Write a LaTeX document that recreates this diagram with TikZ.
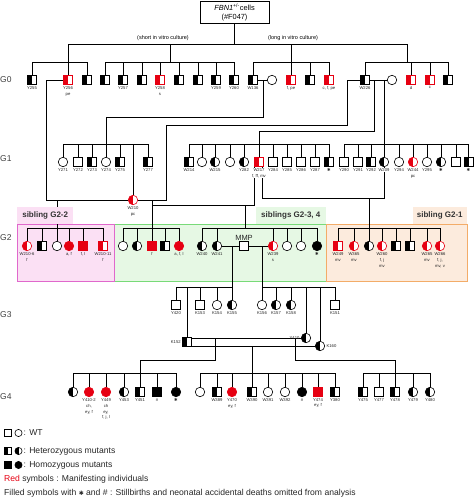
\documentclass[tikz,border=0pt]{standalone}
\usepackage{fontspec}
\setmainfont{Liberation Sans}
\setsansfont{Liberation Sans}
\newfontfamily\djv{DejaVu Sans}
\usetikzlibrary{backgrounds}
\definecolor{mred}{RGB}{230,0,18}
\definecolor{pinkf}{RGB}{251,224,244}
\definecolor{pinkd}{RGB}{224,104,204}
\definecolor{greenf}{RGB}{230,248,228}
\definecolor{greend}{RGB}{120,218,120}
\definecolor{orangef}{RGB}{252,235,221}
\definecolor{oranged}{RGB}{243,172,104}
\newcommand\stx{{\djv\char"2731}}
\newcommand\sibline[2]{\foreach \c in {#2}{\draw[ln] (\c.north) -- (\c.north |- #1);}}
\tikzset{
  sym/.style={draw=black, line width=0.6pt, inner sep=0pt, outer sep=0pt, fill=white},
  sq/.style={sym, rectangle, minimum size=9pt},
  ci/.style={sym, circle, minimum size=9.5pt},
  hetB/.style={path picture={\fill[black] (path picture bounding box.south west) rectangle (path picture bounding box.north);}},
  hetR/.style={draw=mred, path picture={\fill[mred] (path picture bounding box.south west) rectangle (path picture bounding box.north);}},
  homB/.style={fill=black},
  homR/.style={draw=mred, fill=mred},
  lab/.style={font=\fontsize{4.2}{5.8}\selectfont, align=center, inner sep=0.4pt, text=black!85},
  every label/.style={label distance=1.2pt},
  ln/.style={line width=0.6pt, black},
  gen/.style={font=\fontsize{8.5}{9}\selectfont, text=black!75, anchor=west, inner sep=0pt},
  tab/.style={font=\bfseries\fontsize{8}{9}\selectfont, text=black!80, inner sep=2pt, minimum height=17pt},
  leg/.style={font=\fontsize{8.6}{9.5}\selectfont, anchor=west, inner sep=0pt, text=black!85},
  lsym/.style={minimum size=6.8pt},
}
\begin{document}
\begin{tikzpicture}[x=1pt,y=-1pt]
\useasboundingbox (0,0) rectangle (474,501);

% source box
\node[draw, line width=0.6pt, minimum width=69pt, minimum height=22pt, align=center, inner sep=0pt,
      font=\fontsize{7.4}{9}\selectfont] (src) at (234.5,12) {\textit{FBN1}\textsuperscript{+/-}cells\\(\#F047)};
\node[font=\fontsize{5.5}{6}\selectfont, inner sep=0pt] (short) at (163,38) {(short in vitro culture)};
\node[font=\fontsize{5.5}{6}\selectfont, inner sep=0pt] (long) at (293,38) {(long in vitro culture)};

% generation labels
\node[gen] (G0) at (0,80) {G0};
\node[gen] (G1) at (0,159) {G1};
\node[gen] (G2) at (0,238) {G2};
\node[gen] (G3) at (0,315) {G3};
\node[gen] (G4) at (0,397) {G4};

% ---------- G0 ----------
\node[sq,hetB,label={[lab]below:Y255}] (Y255) at (32,80) {};
\node[sq,hetR,label={[lab]below:{Y256\\pe}}] (Y256) at (68,80) {};
\node[sq,hetB] (g0a) at (87,80) {};
\node[sq,hetB] (g0b) at (105,80) {};
\node[sq,hetB,label={[lab]below:Y257}] (Y257) at (123,80) {};
\node[sq,hetB] (g0c) at (142,80) {};
\node[sq,hetR,label={[lab]below:{Y258\\s}}] (Y258) at (160,80) {};
\node[sq,hetB] (g0d) at (179,80) {};
\node[sq,hetB] (g0e) at (198,80) {};
\node[sq,hetB,label={[lab]below:Y259}] (Y259) at (216,80) {};
\node[sq,hetB,label={[lab]below:Y260}] (Y260) at (234,80) {};
\node[sq,hetB,label={[lab]below:W136}] (W136) at (253,80) {};
\node[ci] (c136) at (272,80) {};
\node[sq,hetR,label={[lab]below:{f, pe}}] (g0f) at (291,80) {};
\node[sq,hetB] (g0g) at (310,80) {};
\node[sq,hetR,label={[lab]below:{c, f, pe}}] (g0h) at (329,80) {};
\node[sq,hetB,label={[lab]below:W226}] (W226) at (365,80) {};
\node[ci] (c226) at (392,80) {};
\node[sq,hetR,label={[lab]below:d}] (g0i) at (411,80) {};
\node[sq,hetR,label={[lab]below:c}] (g0j) at (430,80) {};
\node[sq,hetB] (g0k) at (448,80) {};

% ---------- G1 ----------
\node[ci,label={[lab]below:Y271}] (Y271) at (63,162) {};
\node[sq,label={[lab]below:Y272}] (Y272) at (78,162) {};
\node[sq,hetB,label={[lab]below:Y273}] (Y273) at (92,162) {};
\node[ci,label={[lab]below:Y274}] (Y274) at (106,162) {};
\node[sq,hetB,label={[lab]below:Y275}] (Y275) at (120,162) {};
\node[ci,hetR,label={[lab]below:{W210\\pc}}] (W210) at (133,200) {};
\node[sq,hetB,label={[lab]below:Y277}] (Y277) at (148,162) {};

\node[sq,hetB,label={[lab]below:W214}] (W214) at (189,162) {};
\node[ci] (g1a) at (202,162) {};
\node[ci,hetB,label={[lab]below:W215}] (W215) at (215,162) {};
\node[ci] (g1b) at (230,162) {};
\node[ci,hetB,label={[lab]below:Y282}] (Y282) at (244,162) {};
\node[sq,hetR,label={[lab,fill=white]below:{W217\\f, ff, mv}}] (W217) at (259,162) {};
\node[sq,label={[lab]below:Y284}] (Y284) at (273,162) {};
\node[sq,label={[lab]below:Y285}] (Y285) at (287,162) {};
\node[sq,label={[lab]below:Y286}] (Y286) at (301,162) {};
\node[sq,label={[lab]below:Y287}] (Y287) at (315,162) {};
\node[sq,hetB,label={[lab]below:\stx}] (g1c) at (329,162) {};

\node[sq,label={[lab]below:Y290}] (Y290) at (344,162) {};
\node[sq,label={[lab]below:Y291}] (Y291) at (358,162) {};
\node[sq,hetB,label={[lab]below:Y292}] (Y292) at (371,162) {};
\node[ci,hetB,label={[lab,fill=white]below:W209}] (W209) at (384,162) {};
\node[ci,label={[lab]below:Y294}] (Y294) at (399,162) {};
\node[ci,hetR,label={[lab]below:{W244\\pc}}] (W244) at (413,162) {};
\node[ci,label={[lab]below:Y295}] (Y295) at (427,162) {};
\node[ci,hetB,label={[lab]below:\stx}] (g1d) at (441,162) {};
\node[sq] (g1e) at (456,162) {};
\node[sq,hetB,label={[lab]below:\stx}] (g1f) at (468.5,162) {};

% ---------- G2 boxes ----------
\begin{scope}[on background layer]
  \fill[greenf] (114,224) rectangle (326,281);
  \fill[orangef] (326,224) rectangle (467,281);
  \fill[pinkf] (17,224) rectangle (114,281);
  \draw[greend, line width=0.9pt] (114,224) rectangle (326,281);
  \draw[oranged, line width=0.9pt] (326,224) rectangle (467,281);
  \draw[pinkd, line width=0.9pt] (17,224) rectangle (114,281);
\end{scope}
\node[tab, fill=pinkf, anchor=south west, minimum width=56pt] (tabA) at (17,224) {sibling G2-2};
\node[tab, fill=greenf, anchor=south east, minimum width=70pt] (tabB) at (326,224) {siblings G2-3, 4};
\node[tab, fill=orangef, anchor=south east, minimum width=54pt] (tabC) at (467,224) {sibling G2-1};

% ---------- G2 ----------
\node[ci,hetR,label={[lab]below:{W210-6\\f}}] (p1) at (27,246) {};
\node[sq,hetB] (p2) at (42,246) {};
\node[ci] (p3) at (57,246) {};
\node[ci,homR,label={[lab]below:{a, f}}] (p4) at (69,246) {};
\node[sq,homR,label={[lab]below:{f, l}}] (p5) at (83,246) {};
\node[sq,hetR,label={[lab]below:{W210-11\\f}}] (p6) at (103,246) {};

\node[ci] (q1) at (123,246) {};
\node[ci,hetB] (q2) at (137,246) {};
\node[sq,homR,label={[lab]below:f}] (q3) at (152,246) {};
\node[sq,hetB] (q4) at (165,246) {};
\node[ci,homR,label={[lab]below:{a, f, l}}] (q5) at (179,246) {};

\node[ci,hetB,label={[lab]below:W240}] (W240) at (202,246) {};
\node[ci,hetB,label={[lab]below:W241}] (W241) at (217,246) {};
\node[sq,label={[font=\fontsize{7.5}{8}\selectfont,inner sep=0pt,label distance=1pt,text=black!85]above:MMP}] (MMP) at (244,246) {};
\node[ci,hetR,label={[lab]below:{W239\\s}}] (W239) at (273,246) {};
\node[ci] (r1) at (287,246) {};
\node[ci] (r2) at (301,246) {};
\node[ci,homB,label={[lab]below:\stx}] (r3) at (317,246) {};

\node[sq,hetR,label={[lab]below:{W249\\mv}}] (W249) at (338,246) {};
\node[ci,hetR,label={[lab]below:{W365\\mv}}] (W365) at (354,246) {};
\node[ci,hetB] (o3) at (369,246) {};
\node[ci,hetR,label={[lab]below:{W260\\f, j\\mv}}] (W260) at (382,246) {};
\node[sq,hetB] (o5) at (396,246) {};
\node[sq,hetB] (o6) at (410,246) {};
\node[ci,hetR,label={[lab]below:{W265\\mv}}] (W265) at (427,246) {};
\node[ci,hetR,label={[lab]below:{W266\\f, j,\\mv, v}}] (W266) at (440,246) {};

% ---------- G3 ----------
\node[sq,label={[lab]below:Y420}] (Y420) at (176,305) {};
\node[sq,hetB,label={[lab]left:K152}] (K152) at (187,342) {};
\node[sq,label={[lab]below:K153}] (K153) at (200,305) {};
\node[ci,label={[lab]below:K154}] (K154) at (217,305) {};
\node[ci,hetB,label={[lab]below:K155}] (K155) at (232,305) {};
\node[ci,label={[lab]below:K156}] (K156) at (262,305) {};
\node[ci,hetB,label={[lab]below:K157}] (K157) at (276,305) {};
\node[ci,hetB,label={[lab]below:K158}] (K158) at (291,305) {};
\node[ci,hetB,label={[lab]left:Y410}] (Y410) at (306,338) {};
\node[ci,hetB,label={[lab]right:K160}] (K160) at (320,346) {};
\node[sq,label={[lab]below:K151}] (K151) at (335,305) {};

% ---------- G4 ----------
\node[ci,hetB] (t1) at (73,392) {};
\node[ci,homR,label={[lab]below:{Y410-2\\ch,\\ey, f}}] (Y4102) at (89,392) {};
\node[ci,homR,label={[lab]below:{Y449\\ch\\ey,\\f, j, l}}] (Y449) at (106,392) {};
\node[ci,hetB,label={[lab]below:Y453}] (Y453) at (124,392) {};
\node[sq,hetB,label={[lab]below:Y451}] (Y451) at (140,392) {};
\node[sq,homB,label={[lab]below:\#}] (t6) at (157,392) {};
\node[ci,homB,label={[lab]below:\stx}] (t7) at (176,392) {};

\node[ci] (u1) at (200,392) {};
\node[sq,hetB,label={[lab]below:W389}] (W389) at (217,392) {};
\node[ci,homR,label={[lab]below:{Y470\\ey, f}}] (Y470) at (232,392) {};
\node[sq,hetB,label={[lab]below:W390}] (W390) at (252,392) {};
\node[ci,label={[lab]below:W391}] (W391) at (268,392) {};
\node[ci,label={[lab]below:W392}] (W392) at (285,392) {};
\node[ci,homB,label={[lab]below:\#}] (u7) at (302,392) {};
\node[sq,homR,label={[lab]below:{Y474\\ey, f}}] (Y474) at (318,392) {};
\node[sq,hetB,label={[lab]below:Y380}] (Y380) at (335,392) {};

\node[sq,hetB,label={[lab]below:Y475}] (Y475) at (363,392) {};
\node[sq,label={[lab]below:Y477}] (Y477) at (379,392) {};
\node[sq,hetB,label={[lab]below:Y478}] (Y478) at (395,392) {};
\node[ci,hetB,label={[lab]below:Y479}] (Y479) at (413,392) {};
\node[ci,hetB,label={[lab]below:Y480}] (Y480) at (430,392) {};

% ---------- connectors ----------
\coordinate (T) at (0,44);
\coordinate (TR) at (407,44);
\coordinate (J2) at (170,44);
\coordinate (S0) at (0,62);
\coordinate (S1) at (0,144);
\coordinate (S2) at (0,228);
\coordinate (S3) at (0,287);
\coordinate (S4) at (0,373);
\coordinate (k117) at (0,117);
\coordinate (m136) at (263,80);
\coordinate (c46) at (46,200);
\coordinate (c166) at (166,125);
\coordinate (c347) at (347,80);
\coordinate (d374) at (374,80);
\coordinate (d384) at (384,80);
\coordinate (c259) at (259,131);
\coordinate (c254) at (254,205);
\coordinate (c152b) at (152,205);
\coordinate (c152) at (152,200);
\coordinate (c57) at (57,200);
\coordinate (c262) at (262,198);
\coordinate (c369) at (369,198);
\coordinate (c245) at (245,205);
\coordinate (c232) at (232,246);
\coordinate (c262b) at (262,246);
\coordinate (c215) at (215,338);
\coordinate (c295) at (295,338);
\coordinate (c252) at (252,346);
\coordinate (c360) at (0,360);
\coordinate (c188) at (187,287);

\begin{scope}[on background layer]
  % top
  \draw[ln] (src.south) -- (src.south |- T);
  \draw[ln] (Y256.north |- T) -- (TR);
  \draw[ln] (Y256.north |- T) -- (Y256.north);
  \draw[ln] (J2) -- (J2 |- S0);
  \draw[ln] (g0f.north |- T) -- (g0f.north);
  \draw[ln] (TR) -- (TR |- S0);
  % G0 sibships
  \draw[ln] (Y255.north |- S0) -- (g0a.north |- S0);
  \sibline{S0}{Y255,g0a}
  \draw[ln] (g0b.north |- S0) -- (Y260.north |- S0);
  \sibline{S0}{g0b,Y257,g0c,Y258,g0d,g0e,Y259,Y260}
  \draw[ln] (W136.north |- S0) -- (g0h.north |- S0);
  \sibline{S0}{W136,g0g,g0h}
  \draw[ln] (W226.north |- S0) -- (g0k.north |- S0);
  \sibline{S0}{W226,g0i,g0j,g0k}
  % G0 matings
  \draw[ln] (W136.east) -- (c136.west);
  \draw[ln] (W226.east) -- (c226.west);
  \draw[ln] (m136) |- (Y274.north |- k117) -- (Y274.north);
  \draw[ln] (Y256.west) -| (c46) -- (W210.west);
  \draw[ln] (W210.east) -| (c166) -| (c347) -- (W226.west);
  \draw[ln] (d374) |- (c259) -- (W217.north);
  \draw[ln] (d384) -- (W209.north);
  % G1 sibships
  \draw[ln] (Y271.north |- S1) -- (Y277.north |- S1);
  \sibline{S1}{Y271,Y272,Y273,Y275,Y277,W210}
  \draw[ln] (W214.north |- S1) -- (g1c.north |- S1);
  \sibline{S1}{W214,g1a,W215,g1b,Y282,Y284,Y285,Y286,Y287,g1c}
  \draw[ln] (Y290.north |- S1) -- (g1f.north |- S1);
  \sibline{S1}{Y290,Y291,Y292,Y294,W244,Y295,g1d,g1e,g1f}
  % G1 matings
  \draw[ln] (W217.south -| c254) -- (c254) -- (c152b);
  \draw[ln] (W217.south -| c262) -- (c262) -| (W209.south);
  \draw[ln] (c152) -- (q3.north);
  \draw[ln] (c57) -- (p3.north);
  \draw[ln] (c245) -- (c245 |- S2);
  \draw[ln] (c369) -- (o3.north);
  % G2 sibships
  \draw[ln] (p1.north |- S2) -- (p6.north |- S2);
  \sibline{S2}{p1,p2,p4,p5,p6}
  \draw[ln] (q1.north |- S2) -- (q5.north |- S2);
  \sibline{S2}{q1,q2,q4,q5}
  \draw[ln] (W240.north |- S2) -- (r3.north |- S2);
  \sibline{S2}{W240,W241,W239,r1,r2,r3}
  \draw[ln] (W249.north |- S2) -- (W266.north |- S2);
  \sibline{S2}{W249,W365,W260,o5,o6,W265,W266}
  % G2 matings
  \draw[ln] (W241.east) -- (MMP.west);
  \draw[ln] (MMP.east) -- (W239.west);
  \draw[ln] (c232) -- (K155.north);
  \draw[ln] (c262b) -- (K156.north);
  % G3 sibships
  \draw[ln] (Y420.north |- S3) -- (K155.north |- S3);
  \sibline{S3}{Y420,K153,K154}
  \draw[ln] (c188) -- (K152.north);
  \draw[ln] (K156.north |- S3) -- (K151.north |- S3);
  \sibline{S3}{K157,K158,K151}
  \draw[ln] (Y410.north |- S3) -- (Y410.north);
  \draw[ln] (K160.north |- S3) -- (K160.north);
  % G3 matings
  \draw[ln] (K152.east |- Y410.west) -- (Y410.west);
  \draw[ln] (K152.east |- K160.west) -- (K160.west);
  \draw[ln] (c215) |- (Y451.north |- c360) -- (Y451.north);
  \draw[ln] (c295) |- (Y478.north |- c360) -- (Y478.north);
  \draw[ln] (c252) -- (W390.north);
  % G4 sibships
  \draw[ln] (t1.north |- S4) -- (t7.north |- S4);
  \sibline{S4}{t1,Y4102,Y449,Y453,t6,t7}
  \draw[ln] (u1.north |- S4) -- (Y380.north |- S4);
  \sibline{S4}{u1,W389,Y470,W391,W392,u7,Y474,Y380}
  \draw[ln] (Y475.north |- S4) -- (Y480.north |- S4);
  \sibline{S4}{Y475,Y477,Y479,Y480}
\end{scope}

% ---------- legend ----------
\node[sq,lsym] (L1a) at (8,433) {};
\node[ci,lsym,minimum size=7.2pt] (L1b) at (18.5,433) {};
\node[leg] (L1t) at (23.5,433) {: WT};
\node[sq,lsym,hetB] (L2a) at (8,451) {};
\node[ci,lsym,hetB,minimum size=7.2pt] (L2b) at (18.5,451) {};
\node[leg] (L2t) at (23.5,451) {: Heterozygous mutants};
\node[sq,lsym,homB] (L3a) at (8,465) {};
\node[ci,lsym,homB,minimum size=7.2pt] (L3b) at (18.5,465) {};
\node[leg] (L3t) at (23.5,465) {: Homozygous mutants};
\node[leg] (L4t) at (4,479) {\textcolor{mred}{Red} symbols : Manifesting individuals};
\node[leg] (L5t) at (4,493) {Filled symbols with {\fontsize{6}{7}\selectfont\stx} and \# : Stillbirths and neonatal accidental deaths omitted from analysis};
\end{tikzpicture}
\end{document}
